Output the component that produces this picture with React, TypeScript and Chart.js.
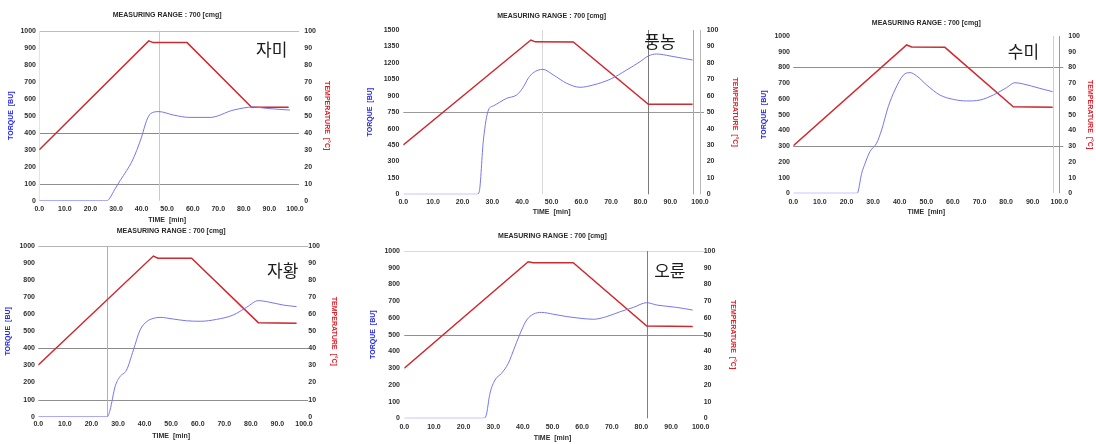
import React, { useEffect, useRef } from "react";
import { Chart, registerables } from "chart.js";

Chart.register(...registerables);

const W = 1096;
const H = 444;

// ---------- data ----------
// 자미
const jamiTorqueTime = [0, 26.5, 27.6, 29.6, 31.6, 34.2, 36.1, 38.1, 40, 42, 43.5, 46.8, 52.4, 58.9, 66.8, 75.9, 83.7, 88.9, 98];
const jamiTorque = [0, 0, 16, 69, 118, 178, 227, 296, 375, 473, 512, 524, 504, 490, 490, 533, 551, 543, 533];
const jamiTempTime = [0, 42.8, 44.5, 57.8, 83, 97.5];
const jamiTemp = [30, 94, 93, 93, 55, 55];

// 풍농
const pungTorqueTime = [0, 24.9, 25.6, 27, 28.7, 30.3, 34.8, 38.2, 40.4, 42.1, 43.8, 47, 50.6, 55.1, 59.6, 64, 69.7, 75.3, 79.8, 82.6, 85.4, 89.9, 94.4, 97.5];
const pungTorque = [0, 0, 24, 496, 770, 806, 876, 907, 977, 1059, 1110, 1141, 1089, 1013, 977, 998, 1050, 1135, 1211, 1263, 1281, 1263, 1241, 1226];
const pungTempTime = [0, 43, 44.5, 57.3, 82.6, 97.5];
const pungTemp = [30, 93.9, 92.8, 92.7, 54.8, 54.8];

// 수미
const sumiTorqueTime = [0, 24, 25.7, 27, 28.8, 31.3, 33.2, 35.7, 38.2, 41.4, 43.9, 46.4, 50.1, 55.1, 60.2, 65.2, 70.2, 75.2, 80.2, 83.3, 86.5, 92.7, 97.5];
const sumiTorque = [0, 0, 127, 191, 265, 318, 403, 551, 657, 752, 767, 746, 689, 625, 597, 587, 593, 625, 672, 703, 695, 667, 646];
const sumiTempTime = [0, 42.6, 44.5, 57, 82.7, 97.5];
const sumiTemp = [30.3, 94.3, 93, 92.8, 55, 54.7];

// 자황
const jahwangTorqueTime = [0, 26, 27, 28.9, 30.7, 33.2, 35.8, 38.3, 40.8, 43.3, 45.8, 50.8, 55.8, 60.9, 67.1, 73.4, 78.4, 82.8, 86, 92.2, 97.2];
const jahwangTorque = [0, 0, 39, 176, 234, 273, 391, 508, 557, 576, 582, 572, 562, 559, 570, 596, 641, 680, 674, 654, 645];
const jahwangTempTime = [0, 43.3, 45, 57.7, 82.8, 97.2];
const jahwangTemp = [30.3, 94.1, 92.8, 92.8, 55.1, 54.7];

// 오륜
const oryunTorqueTime = [0, 26.7, 27.6, 28.9, 30.6, 32.8, 35.1, 37.3, 39.6, 41.3, 43.5, 46.3, 50.3, 54.8, 59.3, 63.8, 68.3, 72.8, 77.3, 81.8, 85.2, 91.9, 97.3];
const oryunTorque = [0, 0, 16, 149, 229, 269, 329, 428, 528, 588, 622, 633, 622, 608, 598, 592, 608, 637, 663, 691, 677, 663, 647];
const oryunTempTime = [0, 41.8, 43.5, 57, 81.8, 97.3];
const oryunTemp = [29.9, 93.6, 93, 93, 55.2, 54.8];

const titleText = "MEASURING RANGE : 700 [cmg]";
const timeTitle = "TIME  [min]";
const torqueTitle = "TORQUE  [BU]";
const tempTitle = "TEMPERATURE  [°C]";

// ---------- layout / style ----------
const FONT = '"Liberation Sans", Arial, sans-serif';
const FS = 7;
const LH = FS * 1.2;
const TICK_COLOR = "#2e2e2e";

type Line = { v: number; c: string };
type Spec = {
  name: string;
  nameAt: [number, number];
  torqueTime: number[];
  torque: number[];
  tempTime: number[];
  temp: number[];
  torqueMax: number;
  torqueStep: number;
  hLines: Line[];
  vLines: Line[];
  plot: { left: number; right: number; top: number; bottom: number };
  titleY: number;
  timeY: number;
  torqueTitleX: number;
  tempTitleX: number;
  gapL: number;
  gapR: number;
  gapX: number;
};

const specs: Spec[] = [
  {
    name: "자미", nameAt: [90.9, 890],
    torqueTime: jamiTorqueTime, torque: jamiTorque, tempTime: jamiTempTime, temp: jamiTemp,
    torqueMax: 1000, torqueStep: 100,
    hLines: [{ v: 1000, c: "#bdbdbd" }, { v: 400, c: "#8a8a8a" }, { v: 100, c: "#8f8f8f" }],
    vLines: [{ v: 46.7, c: "#c9c9c9" }, { v: 0, c: "#e4e4e4" }],
    plot: { left: 39.3, right: 295, top: 30.7, bottom: 200.7 },
    titleY: 15, timeY: 220, torqueTitleX: 11, tempTitleX: 326.7, gapL: 3.3, gapR: 9.3, gapX: 4.4,
  },
  {
    name: "풍농", nameAt: [86.5, 1392],
    torqueTime: pungTorqueTime, torque: pungTorque, tempTime: pungTempTime, temp: pungTemp,
    torqueMax: 1500, torqueStep: 150,
    hLines: [{ v: 750, c: "#9a9a9a" }],
    vLines: [{ v: 46.6, c: "#d8d8d8" }, { v: 82.4, c: "#7a7a7a" }, { v: 97.5, c: "#a8a8a8" }, { v: 100, c: "#b8b8b8" }],
    plot: { left: 403.3, right: 700, top: 30, bottom: 194.3 },
    titleY: 16, timeY: 211.7, torqueTitleX: 370, tempTitleX: 735, gapL: 4, gapR: 6.7, gapX: 3.2,
  },
  {
    name: "수미", nameAt: [86.5, 900],
    torqueTime: sumiTorqueTime, torque: sumiTorque, tempTime: sumiTempTime, temp: sumiTemp,
    torqueMax: 1000, torqueStep: 100,
    hLines: [{ v: 800, c: "#8f8f8f" }, { v: 300, c: "#8f8f8f" }],
    vLines: [{ v: 97.5, c: "#cfcfcf" }, { v: 100, c: "#9a9a9a" }],
    plot: { left: 793.3, right: 1059.3, top: 36, bottom: 193.3 },
    titleY: 22.7, timeY: 211.7, torqueTitleX: 764, tempTitleX: 1090, gapL: 3.3, gapR: 9, gapX: 4.2,
  },
  {
    name: "자황", nameAt: [92, 859],
    torqueTime: jahwangTorqueTime, torque: jahwangTorque, tempTime: jahwangTempTime, temp: jahwangTemp,
    torqueMax: 1000, torqueStep: 100,
    hLines: [{ v: 1000, c: "#b5b5b5" }, { v: 400, c: "#8a8a8a" }, { v: 100, c: "#8f8f8f" }],
    vLines: [{ v: 26, c: "#b0b0b0" }],
    plot: { left: 38.3, right: 304, top: 246, bottom: 416.7 },
    titleY: 231, timeY: 436, torqueTitleX: 8.3, tempTitleX: 334.3, gapL: 3.3, gapR: 4.3, gapX: 3.1,
  },
  {
    name: "오륜", nameAt: [89.6, 882],
    torqueTime: oryunTorqueTime, torque: oryunTorque, tempTime: oryunTempTime, temp: oryunTemp,
    torqueMax: 1000, torqueStep: 100,
    hLines: [{ v: 1000, c: "#dadada" }, { v: 500, c: "#8f8f8f" }],
    vLines: [{ v: 81.8, c: "#7f7f7f" }],
    plot: { left: 404.3, right: 700.7, top: 251, bottom: 418.3 },
    titleY: 235.7, timeY: 438.3, torqueTitleX: 373.3, tempTitleX: 733, gapL: 4.3, gapR: 3, gapX: 4.2,
  },
];

function pts(xs: number[], ys: number[]) {
  return xs.map((x, i) => ({ x, y: ys[i] }));
}

function buildConfig(s: Spec): any {
  const padLeft = s.torqueTitleX - LH / 2;
  const wl = s.plot.left - padLeft;
  const padRight = W - (s.tempTitleX + LH / 2);
  const wr = W - padRight - s.plot.right;
  const padBottom = H - (s.timeY + LH / 2);
  const hx = H - padBottom - s.plot.bottom;
  const tickFont = { family: FONT, size: FS, weight: "bold" as const };
  const noGrid = { display: false, drawTicks: false, tickLength: 0 };

  const overlay = {
    id: "overlay",
    beforeDatasetsDraw(chart: any) {
      const { ctx, chartArea } = chart;
      const xs = chart.scales.x;
      const ys = chart.scales.y;
      ctx.save();
      ctx.lineWidth = 1;
      s.hLines.forEach((l) => {
        const py = Math.round(ys.getPixelForValue(l.v)) + 0.5;
        ctx.strokeStyle = l.c;
        ctx.beginPath();
        ctx.moveTo(chartArea.left, py);
        ctx.lineTo(chartArea.right + 4, py);
        ctx.stroke();
      });
      s.vLines.forEach((l) => {
        const px = Math.round(xs.getPixelForValue(l.v)) + 0.5;
        ctx.strokeStyle = l.c;
        ctx.beginPath();
        ctx.moveTo(px, chartArea.top);
        ctx.lineTo(px, chartArea.bottom);
        ctx.stroke();
      });
      ctx.restore();
    },
    afterDraw(chart: any) {
      const { ctx, chartArea } = chart;
      const xs = chart.scales.x;
      const ys = chart.scales.y;
      ctx.save();
      ctx.fillStyle = "#2a2a2a";
      ctx.font = `bold ${FS}px ${FONT}`;
      ctx.textAlign = "center";
      ctx.textBaseline = "middle";
      ctx.fillText(titleText, (chartArea.left + chartArea.right) / 2, s.titleY);
      ctx.fillStyle = "#1c1c1c";
      ctx.font = `17px "Noto Sans CJK KR", sans-serif`;
      ctx.fillText(s.name, xs.getPixelForValue(s.nameAt[0]), ys.getPixelForValue(s.nameAt[1]));
      ctx.restore();
    },
  };

  return {
    type: "line",
    data: {
      datasets: [
        {
          label: "Torque",
          data: pts(s.torqueTime, s.torque),
          yAxisID: "y",
          borderColor: "#7676ee",
          borderWidth: 1,
          pointRadius: 0,
          cubicInterpolationMode: "monotone",
        },
        {
          label: "Temperature (measured)",
          data: pts(s.tempTime, s.temp),
          yAxisID: "y2",
          borderColor: "rgba(60,60,60,0.3)",
          borderWidth: 0.8,
          pointRadius: 0,
          tension: 0,
        },
        {
          label: "Temperature",
          data: pts(s.tempTime, s.temp),
          yAxisID: "y2",
          borderColor: "#ea2a32",
          borderWidth: 1.5,
          pointRadius: 0,
          tension: 0,
        },
      ],
    },
    options: {
      responsive: false,
      animation: false,
      events: [],
      layout: { padding: { left: padLeft, right: padRight, top: s.plot.top, bottom: padBottom } },
      plugins: { legend: { display: false }, tooltip: { enabled: false }, title: { display: false } },
      scales: {
        x: {
          type: "linear",
          min: 0,
          max: 100,
          grid: noGrid,
          border: { display: false },
          ticks: {
            stepSize: 10,
            autoSkip: false,
            maxRotation: 0,
            minRotation: 0,
            padding: s.gapX,
            font: tickFont,
            color: TICK_COLOR,
            callback: (v: any) => Number(v).toFixed(1),
          },
          title: { display: true, text: timeTitle, padding: 0, font: tickFont, color: TICK_COLOR },
          afterFit: (sc: any) => {
            sc.height = hx;
          },
        },
        y: {
          type: "linear",
          position: "left",
          min: 0,
          max: s.torqueMax,
          grid: noGrid,
          border: { display: false },
          ticks: {
            stepSize: s.torqueStep,
            padding: s.gapL,
            font: tickFont,
            color: TICK_COLOR,
            callback: (v: any) => String(v),
          },
          title: { display: true, text: torqueTitle, padding: 0, font: tickFont, color: "#2828e8" },
          afterFit: (sc: any) => {
            sc.width = wl;
          },
        },
        y2: {
          type: "linear",
          position: "right",
          min: 0,
          max: 100,
          grid: noGrid,
          border: { display: false },
          ticks: {
            stepSize: 10,
            padding: s.gapR,
            font: tickFont,
            color: TICK_COLOR,
            callback: (v: any) => String(v),
          },
          title: { display: true, text: tempTitle, padding: 0, font: tickFont, color: "#e01e28" },
          afterFit: (sc: any) => {
            sc.width = wr;
          },
        },
      },
    },
    plugins: [overlay],
  };
}

function ChartCanvas({ spec }: { spec: Spec }) {
  const ref = useRef<HTMLCanvasElement>(null);
  useEffect(() => {
    if (!ref.current) return;
    const chart = new Chart(ref.current, buildConfig(spec));
    return () => chart.destroy();
  }, [spec]);
  return (
    <canvas
      ref={ref}
      width={W}
      height={H}
      style={{ position: "absolute", left: 0, top: 0, width: W, height: H, pointerEvents: "none" }}
    />
  );
}

export default function App() {
  return (
    <div style={{ position: "absolute", left: 0, top: 0, width: W, height: H, background: "#fff", overflow: "hidden" }}>
      {specs.map((s, i) => (
        <ChartCanvas key={i} spec={s} />
      ))}
    </div>
  );
}
